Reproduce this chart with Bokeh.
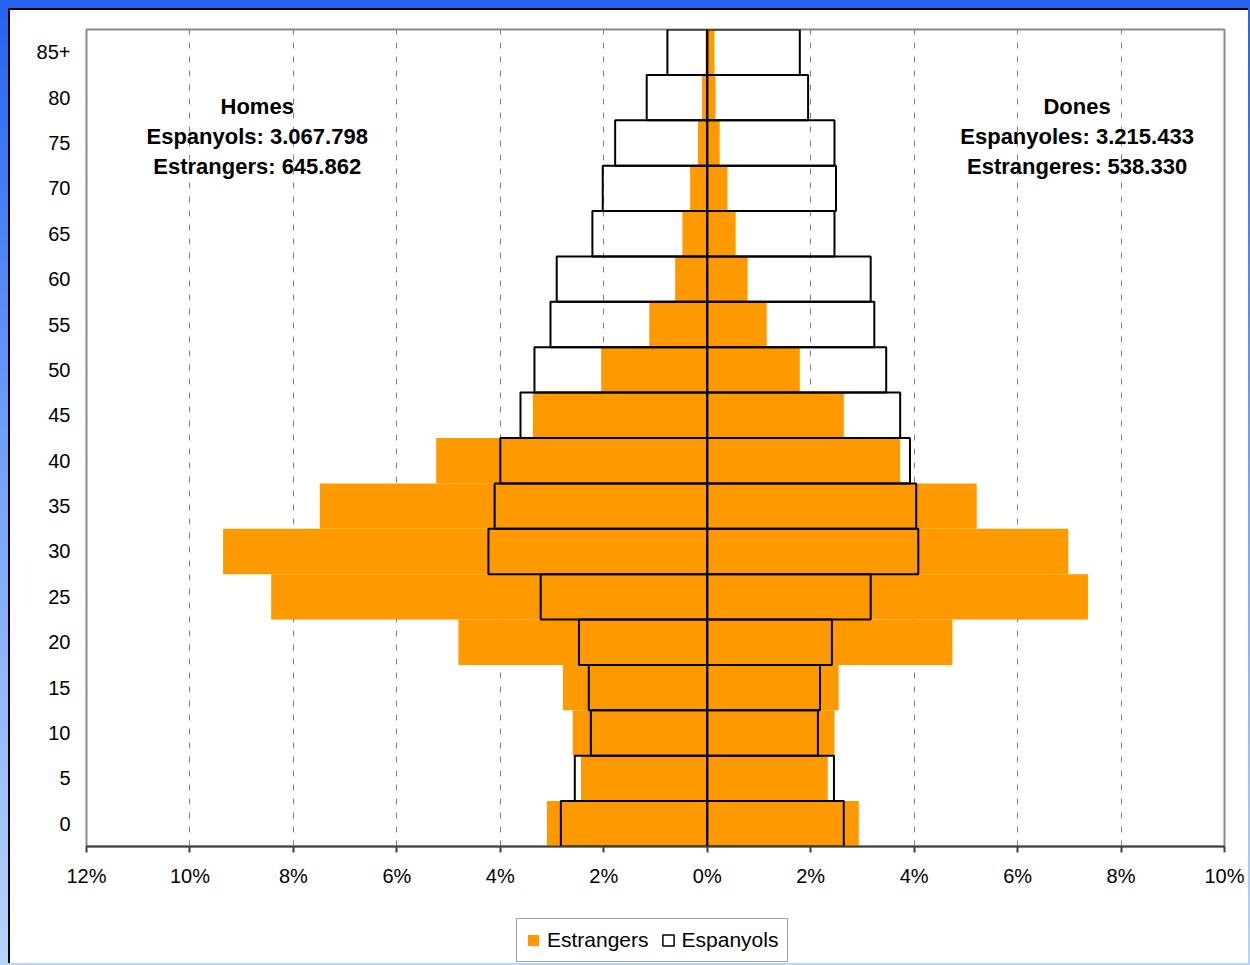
from bokeh.plotting import figure
from bokeh.layouts import column
from bokeh.models import (FixedTicker, Legend, LegendItem, Label, Range1d,
                          CustomJSTickFormatter, ColumnDataSource)
from bokeh.embed import file_html
from bokeh.resources import INLINE

# ---- data (percent of total population) ----
groups = ["0", "5", "10", "15", "20", "25", "30", "35", "40", "45",
          "50", "55", "60", "65", "70", "75", "80", "85+"]
homes_espanyols = [2.83, 2.56, 2.25, 2.29, 2.48, 3.22, 4.23, 4.11, 4.00, 3.61,
                   3.34, 3.03, 2.91, 2.22, 2.02, 1.78, 1.17, 0.77]
homes_estrangers = [3.10, 2.44, 2.60, 2.79, 4.81, 8.43, 9.36, 7.49, 5.24, 3.37,
                    2.05, 1.12, 0.62, 0.48, 0.33, 0.18, 0.10, 0.03]
dones_espanyoles = [2.64, 2.45, 2.14, 2.18, 2.41, 3.16, 4.08, 4.04, 3.92, 3.73,
                    3.46, 3.23, 3.16, 2.46, 2.49, 2.46, 1.95, 1.79]
dones_estrangeres = [2.93, 2.33, 2.46, 2.54, 4.74, 7.36, 6.98, 5.21, 3.73, 2.64,
                     1.79, 1.15, 0.78, 0.55, 0.39, 0.24, 0.16, 0.14]
x_ticks = [-12, -10, -8, -6, -4, -2, 0, 2, 4, 6, 8, 10]
series = ["Estrangers", "Espanyols"]

homes_text = ["Homes", "Espanyols: 3.067.798", "Estrangers: 645.862"]
dones_text = ["Dones", "Espanyoles: 3.215.433", "Estrangeres: 538.330"]

ORANGE = "#FF9900"
FONT = "Liberation Sans"

n = len(groups)
ypos = [i + 0.5 for i in range(n)]

src = ColumnDataSource(dict(
    y=ypos,
    h_esp=[-v for v in homes_espanyols],
    h_est=[-v for v in homes_estrangers],
    d_esp=dones_espanyoles,
    d_est=dones_estrangeres,
))

p = figure(width=1240, height=890, output_backend="svg", toolbar_location=None,
           x_range=Range1d(-12, 10), y_range=Range1d(0, n),
           min_border_left=76, min_border_right=26, min_border_top=19,
           min_border_bottom=54)
p.styles = {"border-left": "2px solid black", "border-top": "2px solid black",
            "background-color": "white"}

p.background_fill_color = "white"
p.border_fill_color = "white"
p.outline_line_color = "#8a8a8a"
p.outline_line_width = 2

# estrangers (orange, filled)
p.hbar(y="y", left="h_est", right=0, height=1, source=src,
       fill_color=ORANGE, line_color=None)
p.hbar(y="y", left=0, right="d_est", height=1, source=src,
       fill_color=ORANGE, line_color=None)
# espanyols (outline only)
p.hbar(y="y", left="h_esp", right=0, height=1, source=src,
       fill_alpha=0, line_color="black", line_width=2)
p.hbar(y="y", left=0, right="d_esp", height=1, source=src,
       fill_alpha=0, line_color="black", line_width=2)

# x axis
p.xaxis.ticker = FixedTicker(ticks=x_ticks)
p.xaxis.formatter = CustomJSTickFormatter(code="return Math.abs(tick) + '%';")
p.xaxis.axis_line_color = "#404040"
p.xaxis.axis_line_width = 2
p.xaxis.major_tick_line_color = "#404040"
p.xaxis.major_tick_line_width = 2
p.xaxis.major_tick_in = 0
p.xaxis.major_tick_out = 6
p.xaxis.minor_tick_line_color = None
p.xaxis.major_label_text_font = FONT
p.xaxis.major_label_text_font_size = "20px"
p.xaxis.major_label_text_color = "black"
p.xaxis.major_label_standoff = 12

# y axis
p.yaxis.ticker = FixedTicker(ticks=ypos)
p.yaxis.major_label_overrides = {y: g for y, g in zip(ypos, groups)}
p.yaxis.axis_line_color = None
p.yaxis.major_tick_line_color = None
p.yaxis.minor_tick_line_color = None
p.yaxis.major_label_text_font = FONT
p.yaxis.major_label_text_font_size = "20px"
p.yaxis.major_label_text_color = "black"
p.yaxis.major_label_standoff = 10

# grid
p.xgrid.ticker = FixedTicker(ticks=x_ticks)
p.xgrid.grid_line_color = "#808080"
p.xgrid.grid_line_dash = "6 8"
p.xgrid.grid_line_width = 1
p.ygrid.visible = False

# annotation texts
for k, t in enumerate(homes_text):
    p.add_layout(Label(x=-8.7, y=16.3 - 0.66 * k, text=t, text_font=FONT,
                       text_font_style="bold", text_font_size="22px",
                       text_color="black",
                       text_align="center", text_baseline="middle"))
for k, t in enumerate(dones_text):
    p.add_layout(Label(x=7.15, y=16.3 - 0.66 * k, text=t, text_font=FONT,
                       text_font_style="bold", text_font_size="22px",
                       text_color="black",
                       text_align="center", text_baseline="middle"))

# ---- legend strip below the chart ----
pl = figure(width=1240, height=65, output_backend="svg", toolbar_location=None,
            x_range=Range1d(0, 1), y_range=Range1d(0, 1),
            x_axis_location=None, y_axis_location=None,
            min_border_left=0, min_border_right=0, min_border_top=0,
            min_border_bottom=0)
pl.styles = {"border-left": "2px solid black", "background-color": "white"}
pl.outline_line_color = None
pl.xgrid.visible = False
pl.ygrid.visible = False
pl.border_fill_color = "white"
pl.background_fill_color = "white"
# legend swatch renderers (their single bar lies outside the visible range)
leg_src = ColumnDataSource(dict(y=[-5], left=[0], right=[0]))
l_est = pl.hbar(y="y", left="left", right="right", height=1, source=leg_src,
                fill_color=ORANGE, line_color=None)
l_esp = pl.hbar(y="y", left="left", right="right", height=1, source=leg_src,
                fill_color="white", line_color="black", line_width=1.5)

legend = Legend(items=[LegendItem(label=series[0], renderers=[l_est]),
                       LegendItem(label=series[1], renderers=[l_esp])],
                location=(430, 1), orientation="horizontal",
                label_text_font=FONT, label_text_font_size="21px",
                label_text_color="black",
                glyph_width=14, glyph_height=14, label_standoff=7, spacing=12,
                padding=9, margin=0, border_line_color="#404040",
                border_line_width=1.5, background_fill_color="white",
                background_fill_alpha=1)
pl.add_layout(legend, "center")

layout = column(p, pl, spacing=0)

tmpl = """{% block preamble %}<style>
html { margin: 0 !important; padding: 0 !important;
       background: linear-gradient(to bottom, #2462f0 0%, #6f9ff7 45%, #b5d3fd 100%); }
body { margin: 0 !important; padding: 8px 0 0 8px !important; background: transparent; }
</style>{% endblock %}"""

open("out.html", "w").write(file_html(layout, INLINE, template=tmpl))
